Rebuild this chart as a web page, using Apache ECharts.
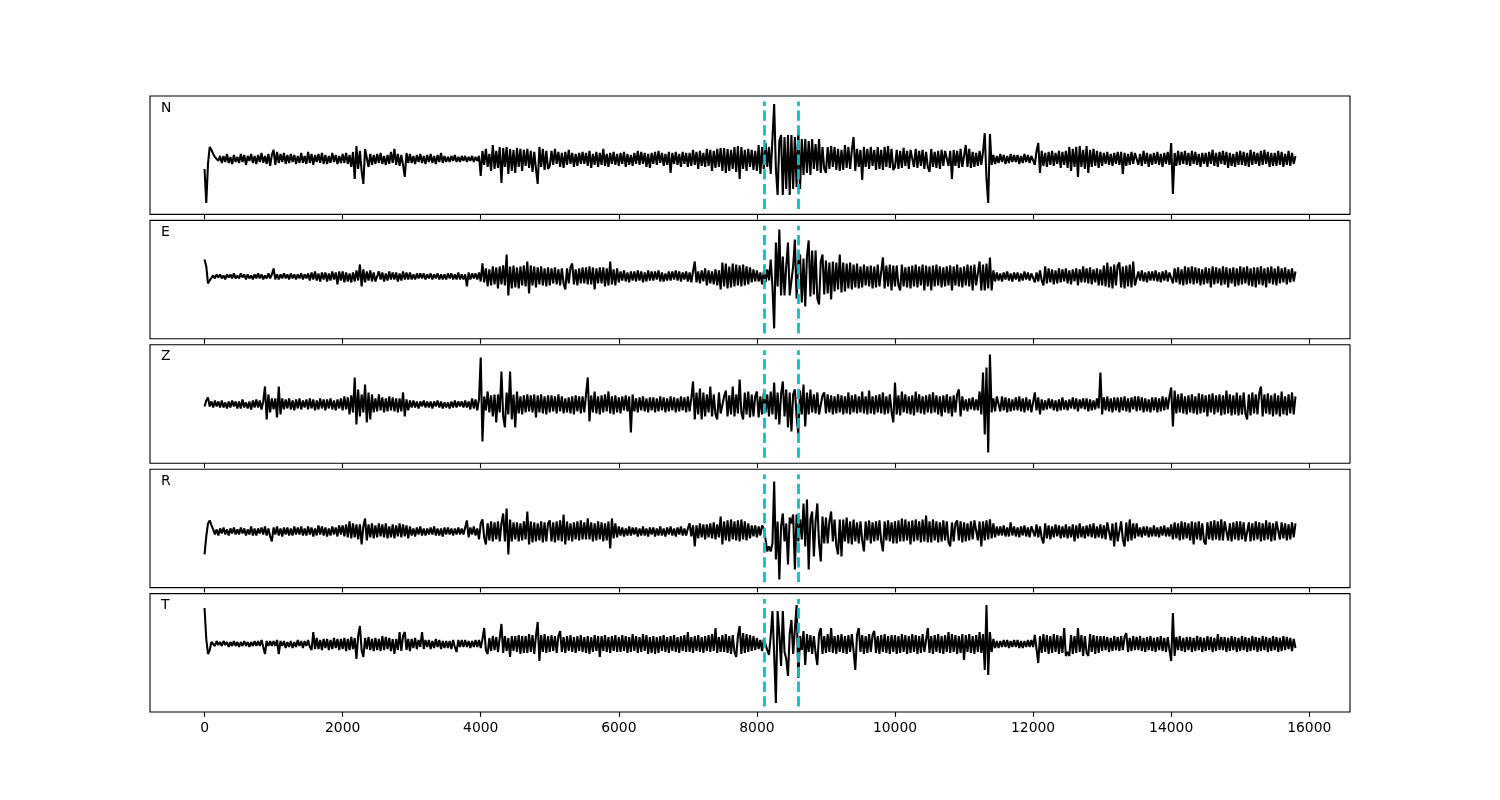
<!DOCTYPE html>
<html>
<head>
<meta charset="utf-8">
<script src="https://cdn.jsdelivr.net/npm/echarts@6/dist/echarts.min.js"></script>
<style>html,body{margin:0;padding:0;background:#fff;}#chart{width:1500px;height:800px;}</style>
</head>
<body>
<div id="chart"></div>
<script>
// ---- data (amplitudes, one sample every 25 time units, starting at 0) ----
const channels = ['N', 'E', 'Z', 'R', 'T'];
const sampleStep = 25;
const markerTimes = [8100, 8600];
const xTicks = [0, 2000, 4000, 6000, 8000, 10000, 12000, 14000, 16000];

const traceN = [
-10,-44,-5,12,9,5,2,4,-2,3,
-4,3,-3,5,-4,2,-5,4,-3,2,
-4,5,-3,4,-6,3,-2,5,-4,3,
-5,4,-3,6,-4,3,-5,5,-7,4,
9,-6,7,-4,5,-3,6,-5,4,-4,
5,-3,4,-5,3,-4,6,-4,3,-5,
7,-4,5,-6,4,-3,5,-4,6,-5,
4,-5,3,-4,6,-3,4,-5,3,-4,
5,-4,6,-5,4,-8,7,-20,13,-10,
8,-12,-25,10,12,-8,5,-6,4,-5,
5,-4,6,-5,3,-6,4,-5,7,-4,
10,-6,5,-7,4,-6,-18,6,-4,5,
-4,3,-5,4,-3,5,-4,3,-5,4,
-3,5,-4,3,-5,4,-3,6,-4,3,
-3,2,-3,3,-2,4,-3,2,-3,3,
-2,3,-3,2,-2,3,-3,2,-2,3,
-17,8,-6,10,-8,5,-12,14,-10,8,
-9,12,-24,11,-8,12,-15,10,-12,9,
-14,11,-8,10,-12,9,-7,10,-9,8,
-13,7,-10,-25,12,-8,10,-11,8,-10,
-7,8,-6,10,-5,7,-8,6,-9,7,
-6,9,-5,6,-8,5,-7,6,-5,7,
-5,6,-7,8,-9,5,-6,7,-8,6,
-6,10,-7,5,-8,6,-5,7,-6,5,
-7,6,-5,7,-8,5,-6,4,-7,6,
-5,8,-6,7,-5,6,-8,5,-9,6,
-5,7,-6,8,-4,6,-7,5,-6,7,
-14,6,-5,7,-6,5,-8,7,-5,6,
-8,6,-7,9,-6,7,-10,8,-7,6,
-8,10,-7,9,-12,8,-9,10,-8,11,
-12,11,-14,10,-12,9,-10,12,-13,13,
-20,12,-10,9,-12,10,-8,9,-11,8,
-12,14,-15,12,-10,16,-8,12,-15,20,
55,-10,-36,18,24,-36,22,-30,24,-36,
24,-30,22,-28,29,-30,20,-16,20,-14,
18,-16,20,-10,15,-12,20,-14,12,-10,
-14,12,-10,13,-8,12,-11,10,-12,9,
-11,14,-9,12,-10,9,22,-12,10,-8,
9,-21,12,-8,10,-10,12,-7,9,-11,
12,-10,9,-11,12,-8,13,-9,10,-11,
-8,9,-10,8,-9,11,-7,8,-10,9,
11,-8,10,-9,8,-7,9,-10,7,-8,
-13,10,-8,7,-9,8,-10,9,-7,8,
9,-7,8,-20,9,-7,8,-9,10,-8,
-8,14,-8,10,-9,7,-8,6,-7,8,
-6,7,26,-20,-44,25,-6,4,-5,3,
-4,5,-3,4,-5,3,-4,5,-3,4,
-3,4,-5,3,-4,5,-3,4,-4,3,
5,-6,8,16,-14,8,-7,6,-8,7,
-6,8,-7,6,-5,8,-9,7,-6,8,
-9,12,-12,10,-8,12,-18,13,-8,9,
-10,13,-14,9,-8,10,-7,8,-9,7,
-7,6,-5,7,-6,5,-7,6,-5,7,
-6,7,-15,6,-7,5,-6,7,-5,6,
7,-6,5,-7,8,-5,6,-8,5,-6,
6,-5,7,-6,5,-8,6,-5,7,-6,
16,-35,6,-7,8,-6,7,-5,8,-6,
6,-7,8,-5,7,-6,5,-8,6,-5,
6,-8,7,-5,9,-7,6,-8,7,-5,
8,-6,7,-9,6,-7,5,-8,7,-6,
8,-6,7,-7,6,-8,9,-6,7,-5,
6,-7,8,-6,9,-5,7,-8,6,-7,
6,-7,8,-6,7,-8,5,-6,8,-7,
6,-5,3
];

const traceE = [
17,10,-7,-4,-2,1,-2,2,-1,2,
-2,1,-3,2,-1,2,-2,3,-2,1,
-2,3,-1,2,-3,2,-2,1,-3,2,
-2,3,-2,2,-3,1,-2,3,-2,2,
8,-3,2,-3,2,-2,3,-2,2,-3,
3,-2,2,-3,2,-2,3,-3,2,-2,
3,-4,4,-3,5,-4,3,-5,4,-3,
4,-5,3,-4,5,-3,4,-8,5,-4,
5,-6,4,-5,3,-6,4,-5,6,-4,
12,-10,7,-6,5,-4,6,-5,4,-5,
-4,5,-3,4,-5,3,-4,5,-3,4,
-3,4,-5,3,-4,5,-3,4,-3,4,
-3,2,-3,3,-2,3,-2,3,-3,2,
-2,3,-3,2,-2,3,-3,2,-3,2,
-3,3,-2,3,-3,2,-3,4,-3,2,
-3,2,-10,4,-3,3,-2,3,-3,4,
-5,13,-6,8,-10,7,-9,10,-8,9,
-12,10,-8,11,-9,22,-19,10,-12,11,
-11,9,-12,10,-9,11,-10,15,-17,11,
-9,10,-11,9,-8,10,-9,8,-10,9,
-9,8,-7,9,-8,7,-9,8,-7,-13,
8,-7,9,13,-8,7,-9,8,-7,9,
-7,9,-8,10,-8,9,-13,8,-7,9,
-7,9,-10,8,-9,15,-8,7,-9,8,
-6,5,-4,6,-5,4,-6,5,-4,5,
-5,6,-4,5,-6,4,-5,6,-4,5,
-4,5,-3,6,-5,4,-5,3,-4,5,
-4,5,-3,6,-4,5,-5,4,-3,5,
-5,4,-6,5,15,-6,5,-7,6,-5,
8,-9,6,-7,5,-8,7,-9,6,-13,
14,-10,13,-12,10,-11,13,-10,12,-9,
11,-10,12,-9,10,-8,9,-6,7,-5,
6,-5,4,-8,5,-6,7,-4,17,-10,
-52,34,-10,47,-19,20,-19,10,34,-19,
-19,10,37,-22,15,22,-26,18,-30,20,
36,-20,26,-18,26,-22,-28,15,22,-18,
16,-17,14,-23,15,-15,14,-13,22,-16,
14,-15,13,-12,14,-13,12,-11,13,-12,
10,-11,12,-9,10,-10,11,-12,10,-11,
12,-10,-9,19,-12,11,-10,12,-14,11,
-10,11,-9,-14,12,-10,9,-11,10,-12,
11,-10,12,-11,10,-9,12,-14,11,-10,
10,-14,11,-10,12,-9,10,-11,9,-10,
10,-9,11,-14,10,-9,12,-10,9,-11,
10,-9,12,-10,11,-14,12,-9,-10,15,
-14,12,-14,13,-12,19,-14,6,-5,4,
-4,3,-5,4,-3,5,-4,3,-5,4,
-3,4,-5,3,-4,5,-3,4,-4,3,
5,-6,4,-5,6,-4,-9,10,-7,8,
-6,7,-8,6,-7,8,-6,7,-5,8,
-7,6,-8,7,-5,8,-9,7,-6,10,
-6,8,-7,9,-8,7,-6,8,-9,7,
-9,11,-10,14,-11,10,-12,12,-9,11,
14,-11,10,-12,11,-10,12,-11,15,-9,
-8,5,-4,6,-5,4,-6,5,-4,5,
-4,6,-5,4,-6,5,-4,6,-5,4,
6,-7,8,-6,9,-8,7,-9,10,-8,
9,-7,10,-8,9,-7,8,-9,7,-8,
9,-7,8,-11,10,-8,9,-7,8,-9,
10,-8,9,-11,8,-7,9,-10,8,-9,
10,-8,9,-7,10,-9,8,-10,9,-11,
9,-8,10,-9,8,-11,9,-7,10,-8,
8,-9,10,-7,8,-6,9,-8,7,-6,
8,-5,5
];

const traceZ = [
-2,4,7,-2,3,-3,4,-2,3,-3,
4,-3,2,-4,3,-3,4,-2,3,-4,
3,-4,5,-3,2,-4,3,-5,4,-3,
5,-3,4,-5,3,18,-15,10,-8,6,
-5,6,-13,18,-10,6,-5,5,-4,6,
-5,4,-6,5,-4,6,-5,4,-3,5,
-5,6,-4,5,-6,4,-5,6,-4,5,
-6,5,-4,6,-5,4,-6,5,-4,6,
-6,8,-5,7,-10,9,-8,27,-20,15,
-12,10,-8,20,-18,12,-15,10,-8,6,
-7,10,-6,7,-8,6,-7,8,-6,7,
-7,6,-8,6,-7,12,-12,5,-6,4,
-3,4,-3,3,-4,3,-2,4,-3,3,
-3,3,-4,3,-2,4,-3,3,-4,2,
-3,2,-4,3,-3,4,-3,3,-2,3,
-3,4,-3,3,-5,6,-4,5,-6,5,
47,-37,8,-6,13,-8,9,-12,10,-18,
10,-8,33,-12,-23,12,-10,33,-15,10,
-23,13,-9,8,-10,9,-8,10,-7,9,
-8,10,-13,9,-8,10,-9,8,-10,9,
-8,9,-7,8,-9,10,-7,8,-9,6,
-8,7,-9,8,-10,9,-7,8,-9,8,
-8,10,27,-17,9,-8,13,-9,8,-10,
9,-8,10,-7,13,-9,8,-10,9,-8,
7,-9,8,-6,9,-7,8,-28,10,-7,
6,-8,7,-6,8,-7,6,-8,7,-6,
7,-8,6,-7,8,-6,7,-8,6,-7,
8,-6,7,-8,6,-7,8,-6,7,-8,
8,-7,6,23,-15,12,-10,16,-15,12,
-12,10,-8,18,-12,10,-10,-15,12,-9,
-9,8,14,-12,9,-10,18,-12,10,-9,
25,-8,-15,12,-10,13,-13,10,-12,8,
13,-13,8,-10,12,-8,10,-12,13,-10,
22,-15,12,-20,10,23,-12,15,-23,12,
-27,10,15,-12,-30,14,-10,20,-22,12,
-10,15,-8,10,-9,12,-10,-12,9,12,
-9,10,-8,9,-10,8,-9,10,-8,9,
-10,8,-9,12,-10,9,-8,10,-9,8,
-8,13,-9,8,-10,14,-9,8,-10,9,
-8,10,-9,12,-10,8,-9,10,-7,-18,
22,-10,9,-11,13,-8,10,-9,8,-10,
9,-11,13,-8,10,-9,8,-10,9,-8,
10,-9,12,-8,9,-10,8,-12,9,-8,
10,-9,8,-12,9,-8,10,15,-12,8,
-6,5,-7,6,-5,7,-6,5,-6,13,
-10,32,-30,37,-48,50,-8,6,-7,8,
6,-7,8,-6,7,-8,6,-7,5,-6,
7,-6,8,-7,6,-8,7,-6,5,-8,
-8,12,-6,7,-10,5,-6,4,-5,6,
-4,5,-6,4,-7,5,-6,7,-5,4,
-6,5,-4,7,-5,6,-7,5,-4,6,
-5,6,-7,5,-6,4,-5,6,-4,32,
-10,7,-6,8,-7,6,-8,7,-6,7,
-8,7,-6,8,-7,6,-8,7,-5,8,
-7,8,-6,7,-8,6,-7,5,-8,7,
-6,7,-8,6,-7,8,-6,7,-5,8,
17,-22,14,-9,10,-8,11,-9,8,-10,
9,-8,10,-9,8,-10,11,-9,10,-8,
9,-12,10,-8,11,-10,9,-8,10,-11,
9,-10,14,-9,10,-11,9,-10,12,-11,
9,-10,12,-9,-15,10,-11,12,-9,10,
-10,11,18,-12,10,-9,11,-10,9,-12,
11,-10,9,-12,13,-10,8,-11,10,-9,
12,-10,8
];

const traceR = [
-23,-5,8,11,6,2,-3,2,-4,3,
-2,4,-3,2,-4,3,-2,4,-3,2,
-3,4,-2,3,-4,2,-3,5,-4,3,
-4,3,-2,4,-3,5,-4,3,-5,-10,
4,-3,5,-4,3,-5,4,-3,4,-4,
3,-4,5,-3,4,-3,5,-4,3,-4,
5,-3,4,-5,3,-4,6,-3,5,-4,
4,-5,3,-4,5,-3,4,-5,6,-3,
6,-5,7,-6,10,-7,8,-6,7,-8,
7,-13,5,13,-9,7,-6,8,-7,6,
-6,8,-5,7,-6,8,-7,5,-6,7,
-7,6,-5,8,-6,7,-5,6,-7,5,
-4,3,-5,4,-3,5,-4,3,-4,3,
-3,4,-3,5,-4,3,-4,3,-5,4,
-3,4,-3,3,-4,3,-3,4,-3,3,
-3,4,11,-6,4,-3,5,-4,3,-8,
8,12,-6,-13,8,-9,10,-10,9,-8,
10,-10,8,18,-10,23,-23,12,-10,9,
-8,9,-10,8,-9,10,-8,20,-13,10,
-11,9,-10,8,-9,10,-11,9,-10,8,
11,-10,9,-11,10,-9,11,-10,17,-13,
10,-9,8,-10,9,-8,10,-9,11,-8,
9,-8,13,-8,9,-10,8,-9,10,-8,
9,-10,8,-9,10,-17,13,-7,8,-6,
5,-4,4,-5,3,-4,5,-4,4,-3,
4,-5,3,-4,5,-4,3,-5,4,-3,
4,-5,3,-4,5,-4,3,-5,4,-3,
5,-4,3,-5,4,-3,5,-4,3,-4,
3,8,-5,6,-15,6,-7,8,-6,7,
-8,7,-6,8,-7,9,-8,7,-6,15,
-13,10,-9,11,-10,12,-8,10,-9,11,
-10,12,-8,10,-9,8,-7,6,-5,6,
-6,5,-4,6,3,-8,-20,-15,-20,-12,
50,-28,10,-48,5,18,-10,8,-33,14,
8,17,-38,17,-10,12,-8,28,-15,32,
-38,12,20,-25,10,28,-12,-30,15,-12,
14,-12,10,20,-10,12,-14,-23,12,-25,
12,-10,14,-12,10,-13,12,-10,9,-12,
10,-9,-20,10,-9,11,-12,9,-10,10,
-9,11,-10,-20,10,-9,11,-10,9,-12,
10,-12,11,-10,13,-10,12,-9,10,-13,
11,-10,12,-9,10,-11,12,-10,16,-11,
10,-11,12,-9,10,-11,9,-10,11,-9,
10,-11,-15,9,-10,8,11,-9,10,-11,
9,-10,8,-9,10,-8,11,13,-9,10,
-15,10,-9,11,-8,12,-7,8,-6,5,
-4,5,-4,6,-5,4,-5,9,-4,5,
-5,4,-6,5,-4,6,-5,4,-6,5,
6,-5,7,-6,5,-7,-12,8,-7,6,
-8,5,-6,7,-5,6,-7,5,-6,7,
-7,5,-6,7,-10,6,-7,8,-6,5,
-7,6,-5,7,-6,8,-7,5,-6,7,
-7,6,-8,9,10,-9,8,-15,9,-10,
-9,10,-8,-15,9,-10,12,-9,8,-7,
8,-5,4,-6,5,-4,5,-6,4,-5,
6,-5,4,-6,5,-4,6,-5,4,-5,
7,-8,9,-7,8,-9,10,-8,9,-7,
8,-9,10,-13,9,-8,10,-9,8,-10,
-13,9,-8,10,-9,11,-8,10,-9,12,
-9,10,12,-9,8,-10,9,-8,10,-9,
10,-8,9,-10,-12,9,-10,8,-9,10,
-8,9,-10,8,-9,11,-8,9,-10,8,
-9,10,12,-8,9,-7,8,-9,7,-8,
9,-6,8
];

const traceT = [
36,5,-10,-6,2,4,-2,3,-1,2,
-2,3,-1,2,-3,2,-2,3,-2,2,
-3,2,-2,3,-2,2,-3,2,-2,3,
-2,3,-2,4,-3,-10,3,-2,3,-2,
3,-2,4,-10,3,-2,3,-4,2,-3,
3,-4,2,-3,4,-2,3,-4,3,-2,
4,-3,-6,12,-5,6,-5,4,-6,5,
-4,5,-6,4,-5,6,-4,5,-6,5,
-5,6,-7,5,-6,7,-5,6,-15,8,
18,-6,-13,6,-5,7,-6,5,-7,6,
-6,5,-7,8,-6,7,-5,6,-7,5,
-10,5,-6,12,-7,8,12,-6,5,-7,
5,-4,6,-5,4,-3,12,-5,4,-3,
4,-5,3,-4,5,-3,4,-5,3,-4,
3,-4,3,-5,4,-3,-8,4,-3,4,
-3,4,-3,3,-4,3,-3,4,-3,4,
-4,5,16,-6,-10,6,-7,8,-6,7,
-8,6,20,-9,8,-7,6,-13,8,-7,
8,-8,9,-10,8,-9,8,-9,10,-8,
9,-10,8,22,-17,9,-8,10,-9,8,
-8,9,-7,8,-9,8,13,-8,7,-9,
8,-7,9,-8,7,-9,8,-7,9,-8,
7,-9,8,-10,7,-8,9,-7,8,-13,
8,-7,9,-8,7,-9,8,-7,9,-8,
7,-8,9,-7,8,-9,7,-8,10,-7,
8,-9,7,-8,10,-7,9,-10,7,-9,
8,-10,7,-9,8,-7,9,-8,7,-9,
8,-7,9,-8,7,-9,8,-7,9,-8,
12,-8,7,-9,8,-7,9,-8,7,-9,
8,-7,9,-8,10,-7,16,-9,7,-8,
9,-8,10,-9,8,-10,9,-8,-13,8,
18,-10,11,-9,10,-8,9,-7,8,-6,
6,-5,4,-7,5,4,-6,-11,8,33,
-10,-59,33,10,-22,33,-8,-15,-32,10,
24,-10,-12,39,-34,8,-6,13,-21,10,
-8,9,-10,8,-9,-21,10,16,-10,8,
-9,10,-8,16,-9,8,-10,9,-8,10,
-9,8,-10,9,-8,10,-7,-26,9,16,
-8,9,-10,8,-9,10,-8,9,13,-9,
8,-10,9,-8,10,-9,8,-10,9,-8,
9,-10,8,-9,10,-8,9,-10,8,-9,
10,-8,9,-10,8,-9,10,-8,-10,16,
-9,8,-10,9,-8,10,-9,8,-10,9,
-8,12,-9,10,-8,9,-10,8,-9,10,
-16,9,-8,10,-9,8,-10,9,-8,12,
-9,10,-26,39,-31,12,-8,5,-4,3,
-4,3,-3,4,-3,4,-4,3,-3,4,
-3,4,-4,3,-4,3,-3,4,-3,4,
-3,9,-5,-19,8,-9,10,-8,9,-10,
8,-9,10,-8,9,-10,8,-9,16,-12,
-8,-12,9,-10,8,-9,16,-8,9,-12,
8,-9,-12,10,-8,9,-10,8,-9,8,
-7,8,-6,7,-8,6,-7,8,-6,7,
-7,8,-6,7,11,-8,6,-7,8,-6,
7,-6,8,-7,6,-8,7,-6,8,-7,
6,-8,7,-6,8,-7,6,-8,7,-6,
-17,31,-12,7,-6,8,-7,6,-8,7,
-6,7,-8,6,-7,8,-6,7,-8,6,
-7,8,-6,7,-8,6,-7,10,-6,7,
-6,7,-8,6,-7,8,-6,7,-8,6,
-7,8,-6,7,-8,6,-7,8,-6,7,
-8,6,-7,8,-6,7,-8,6,-7,8,
-6,7,-8,6,-7,8,-6,7,-5,6,
-7,5,-4
];

const traces = [traceN, traceE, traceZ, traceR, traceT];
// y-axis view range per panel [min, max]
const yRanges = [[-55.5, 63], [-62.4, 56.1], [-58.8, 59.7], [-56.2, 62.3], [-68, 50.4]];

// ---- layout ----
const gridLeft = 150, gridWidth = 1200, gridHeight = 118.4;
const gridTops = [96, 220.4, 344.8, 469.2, 593.6];
const xMin = -790, xMax = 16590;
const font = 'DejaVu Sans';

const grids = [], xAxes = [], yAxes = [], series = [], titles = [];
channels.forEach((ch, i) => {
  const isLast = i === channels.length - 1;
  grids.push({left: gridLeft, top: gridTops[i], width: gridWidth, height: gridHeight,
    show: true, borderColor: '#000', borderWidth: 1.1, backgroundColor: 'transparent', containLabel: false});
  xAxes.push({type: 'value', gridIndex: i, min: xMin, max: xMax, splitNumber: 9,
    position: 'bottom',
    axisLine: {show: false, onZero: false},
    axisTick: {show: true, inside: false, length: 4.9, lineStyle: {color: '#000', width: 1.1},
      customValues: xTicks},
    axisLabel: {show: isLast, color: '#000', fontFamily: font, fontSize: 13.9, margin: 9,
      customValues: xTicks, formatter: v => String(v)},
    splitLine: {show: false}});
  const [lo, hi] = yRanges[i];
  yAxes.push({type: 'value', gridIndex: i, min: lo, max: hi, show: false,
    axisLine: {show: false, onZero: false}, axisTick: {show: false}, axisLabel: {show: false}, splitLine: {show: false}});
  const pad = (hi - lo) / 22;
  series.push({type: 'line', xAxisIndex: i, yAxisIndex: i,
    data: traces[i].map((v, k) => [k * sampleStep, v]),
    showSymbol: false, symbol: 'none', animation: false, silent: true,
    lineStyle: {color: '#000', width: 2.08},
    markLine: {symbol: ['none', 'none'], silent: true, animation: false,
      label: {show: false},
      lineStyle: {color: '#0cbfc4', width: 2.78, type: [10.3, 4.4]},
      data: markerTimes.map(t => [{coord: [t, lo + pad]}, {coord: [t, hi - pad]}])}
  });
  titles.push({text: ch, left: 161, top: gridTops[i] + 5, padding: 0,
    textStyle: {fontFamily: font, fontSize: 13.9, fontWeight: 'normal', color: '#000'}});
});

const chart = echarts.init(document.getElementById('chart'), null, {renderer: 'canvas'});
chart.setOption({
  animation: false,
  backgroundColor: '#fff',
  title: titles,
  grid: grids,
  xAxis: xAxes,
  yAxis: yAxes,
  series: series
});
</script>
</body>
</html>
